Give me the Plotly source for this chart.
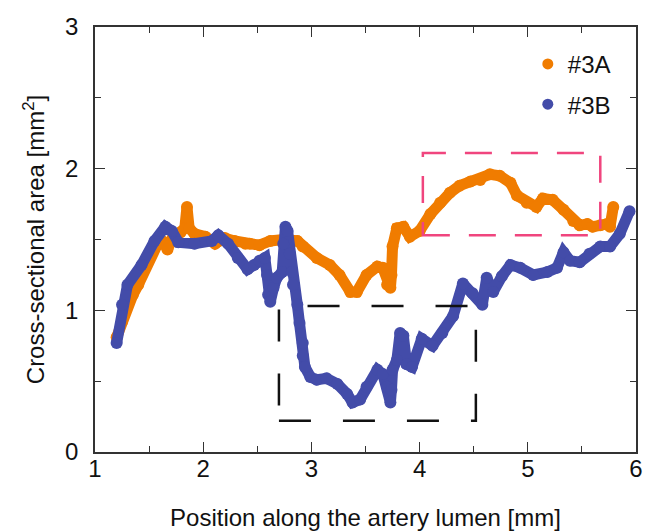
import plotly.graph_objects as go

# ---- data ----
a_x = [1.20, 1.25, 1.30, 1.35, 1.40, 1.49, 1.58, 1.63, 1.67, 1.71, 1.79, 1.83, 1.85, 1.87, 1.92,
       2.02, 2.11, 2.20, 2.29, 2.39, 2.43, 2.52, 2.62, 2.74, 2.87, 2.92, 3.05, 3.17, 3.26, 3.36,
       3.42, 3.51, 3.61, 3.66, 3.70, 3.73, 3.74, 3.75, 3.79, 3.85, 3.91, 4.00, 4.10, 4.19, 4.28,
       4.37, 4.47, 4.56, 4.65, 4.74, 4.84, 4.90, 4.99, 5.08, 5.14, 5.23, 5.33, 5.42, 5.48, 5.55,
       5.60, 5.67, 5.73, 5.76, 5.79]
a_y = [0.81, 0.92, 1.04, 1.11, 1.18, 1.35, 1.47, 1.48, 1.43, 1.50, 1.55, 1.58, 1.73, 1.58, 1.54,
       1.52, 1.47, 1.51, 1.49, 1.47, 1.47, 1.46, 1.49, 1.50, 1.49, 1.45, 1.37, 1.32, 1.25, 1.13,
       1.13, 1.25, 1.31, 1.30, 1.18, 1.16, 1.25, 1.45, 1.58, 1.59, 1.52, 1.56, 1.68, 1.76, 1.83,
       1.88, 1.91, 1.92, 1.96, 1.95, 1.90, 1.81, 1.76, 1.73, 1.79, 1.78, 1.71, 1.63, 1.60, 1.61,
       1.59, 1.60, 1.61, 1.59, 1.73]

b_x = [1.20, 1.25, 1.30, 1.43, 1.55, 1.65, 1.71, 1.77, 1.92, 2.08, 2.14, 2.23, 2.32, 2.41, 2.47,
       2.52, 2.57, 2.59, 2.60, 2.62, 2.65, 2.68, 2.73, 2.74, 2.76, 2.78, 2.80, 2.82, 2.83, 2.87,
       2.89, 2.92, 2.92, 2.94, 2.99, 3.05, 3.14, 3.24, 3.33, 3.38, 3.45, 3.51, 3.61, 3.66, 3.70,
       3.73, 3.74, 3.75, 3.79, 3.82, 3.85, 3.88, 3.93, 4.02, 4.12, 4.21, 4.31, 4.40, 4.49, 4.58,
       4.62, 4.68, 4.76, 4.84, 4.93, 5.05, 5.18, 5.27, 5.33, 5.39, 5.48, 5.57, 5.67, 5.76, 5.85,
       5.94]
b_y = [0.77, 1.04, 1.18, 1.32, 1.49, 1.59, 1.56, 1.48, 1.47, 1.49, 1.53, 1.47, 1.37, 1.29, 1.32,
       1.35, 1.37, 1.25, 1.11, 1.06, 1.16, 1.23, 1.27, 1.47, 1.59, 1.56, 1.40, 1.27, 1.18, 1.04,
       0.91, 0.77, 0.68, 0.60, 0.53, 0.51, 0.52, 0.48, 0.41, 0.35, 0.37, 0.46, 0.58, 0.55, 0.46,
       0.35, 0.44, 0.58, 0.65, 0.84, 0.82, 0.62, 0.60, 0.80, 0.75, 0.84, 0.96, 1.19, 1.12, 1.04,
       1.23, 1.13, 1.24, 1.32, 1.30, 1.25, 1.27, 1.30, 1.41, 1.35, 1.34, 1.40, 1.45, 1.45, 1.54,
       1.70]

names = ["#3A", "#3B"]
colors = ["#F07C00", "#434CA9"]

# boxes: [x0, x1, y0, y1]
box_black = [2.70, 4.52, 0.22, 1.03]
box_pink = [4.03, 5.67, 1.53, 2.11]

x_ticks = [1, 2, 3, 4, 5, 6]
y_ticks = [0, 1, 2, 3]

fig = go.Figure()
for xs, ys, c in [(a_x, a_y, colors[0]), (b_x, b_y, colors[1])]:
    fig.add_trace(go.Scatter(x=xs, y=ys, mode="lines+markers",
                             line=dict(color=c, width=11),
                             marker=dict(color=c, size=12),
                             showlegend=False, hoverinfo="skip"))
for i, (n, c) in enumerate(zip(names, colors)):
    fig.add_trace(go.Scatter(x=[None], y=[None], mode="markers", name=n,
                             legendgroup=n,
                             marker=dict(color=c, size=11)))

fig.add_shape(type="rect", x0=box_black[0], x1=box_black[1], y0=box_black[2], y1=box_black[3],
              line=dict(color="#111111", width=2.5, dash="32px,32px"))
fig.add_shape(type="rect", x0=box_pink[0], x1=box_pink[1], y0=box_pink[2], y1=box_pink[3],
              line=dict(color="#F0457E", width=2.5, dash="27px,19px"))

axis_common = dict(showgrid=False, zeroline=False, showline=True, linecolor="#333333",
                   linewidth=1.5, mirror="ticks", ticks="inside", ticklen=10, tickwidth=1.3,
                   tickcolor="#333333", tickfont=dict(size=24, color="#111111"),
                   automargin=False,
                   minor=dict(ticks="inside", ticklen=6, tickwidth=1.3, tickcolor="#333333",
                              dtick=0.5, showgrid=False))

fig.update_xaxes(range=[1, 6], tickvals=x_ticks, ticktext=[str(v) for v in x_ticks],
                 title=dict(text="Position along the artery lumen [mm]",
                            font=dict(size=24, color="#111111"), standoff=30),
                 ticklabelstandoff=-6, **axis_common)
fig.update_yaxes(range=[0, 3], tickvals=y_ticks, ticktext=[str(v) for v in y_ticks],
                 title=dict(text="Cross-sectional area [mm<sup>2</sup>]",
                            font=dict(size=24, color="#111111"), standoff=14),
                 ticklabelstandoff=10, **axis_common)

# the page body adds an 8px margin, so the figure is sized to fit inside the window
fig.update_layout(
    width=643, height=523,
    margin=dict(l=87, r=15, t=19, b=79),
    paper_bgcolor="white", plot_bgcolor="white",
    font=dict(family="Liberation Sans, Arial, sans-serif", color="#111111"),
    legend=dict(x=0.80, y=0.965, xanchor="left", yanchor="top",
                font=dict(size=24, color="#111111"), tracegroupgap=6,
                bgcolor="rgba(0,0,0,0)", itemwidth=30),
)

fig.write_html("out.html")
